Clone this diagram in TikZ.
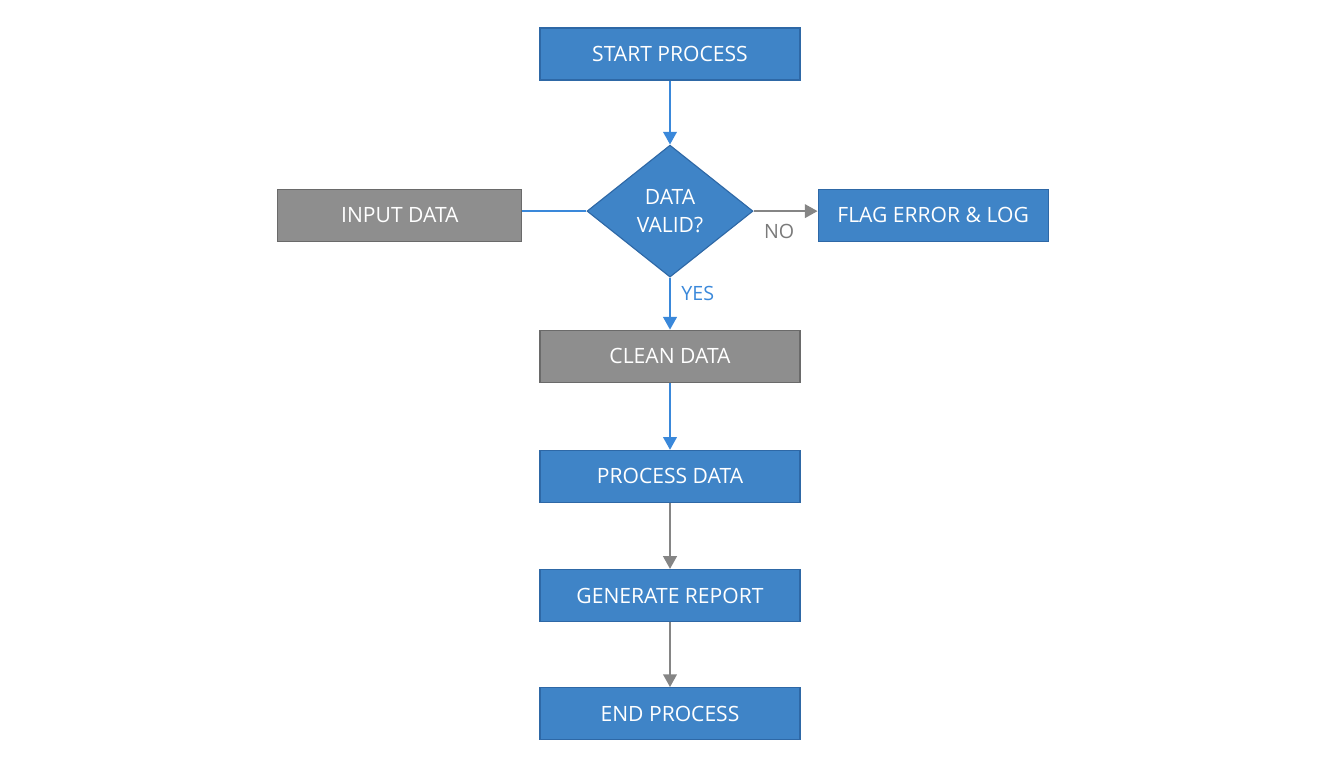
\documentclass[tikz,border=0pt]{standalone}
\usepackage{fontspec}
\setmainfont{Open Sans}
\usetikzlibrary{arrows.meta,positioning,shapes.geometric}
\definecolor{BoxBlue}{HTML}{3F84C7}
\definecolor{EdgeBlue}{HTML}{2E68A6}
\definecolor{BoxGray}{HTML}{8E8E8E}
\definecolor{EdgeGray}{HTML}{6A6A6A}
\definecolor{LineBlue}{HTML}{3A88DA}
\definecolor{LineGray}{HTML}{858585}
\definecolor{LabelGray}{HTML}{7A7A7A}
\tikzset{
  stepblue/.style={
    draw=EdgeBlue, line width=0.8pt, fill=BoxBlue, text=white,
    minimum width=6.5cm, minimum height=1.3cm, align=center,
    font=\fontsize{15}{18}\selectfont
  },
  stepgray/.style={
    stepblue, draw=EdgeGray, fill=BoxGray
  },
  decision/.style={
    diamond, draw=EdgeBlue, line width=0.8pt, fill=BoxBlue, text=white,
    minimum width=4.15cm, minimum height=3.3cm, inner sep=0pt,
    align=center, font=\fontsize{15}{20}\selectfont
  },
  blueflow/.style={-{Triangle[length=3.2mm,width=3.4mm]}, line width=1.6pt, draw=LineBlue},
  grayflow/.style={-{Triangle[length=3.2mm,width=3.4mm]}, line width=1.6pt, draw=LineGray},
  branch/.style={font=\fontsize{14}{16}\selectfont}
}

\begin{document}
\begin{tikzpicture}[node distance=1.65cm and 1.6cm]
    \useasboundingbox (0,0) rectangle (33.6,-19.2);
    \node[stepblue] (start) at (16.75,-1.35) {START PROCESS};
    \node[decision,below=1.6cm of start] (valid) {DATA\\VALID?};
    \node[stepgray,left=1.6cm of valid,yshift=-0.1cm,minimum width=6.1cm] (input) {INPUT DATA};
    \node[stepblue,right=1.6cm of valid,yshift=-0.1cm,minimum width=5.75cm] (flag) {FLAG ERROR \& LOG};
    \node[stepgray,below=1.3cm of valid] (clean) {CLEAN DATA};
    \node[stepblue,below=1.675cm of clean] (process) {PROCESS DATA};
    \node[stepblue,below=of process] (report) {GENERATE REPORT};
    \node[stepblue,below=1.625cm of report] (finish) {END PROCESS};
    \draw[blueflow] (start)--(valid);
    \draw[LineBlue,line width=1.6pt] (input.east |- valid.west)--(valid.west);
    \draw[grayflow] (valid.east)--(valid.east -| flag.west) node[branch,text=LabelGray,pos=0.4,below=5pt] {NO};
    \draw[blueflow] (valid.south)--(clean.north) node[branch,text=LineBlue,midway,right=4pt,yshift=7pt] {YES};
    \draw[blueflow] (clean)--(process);
    \draw[grayflow] (process)--(report);
    \draw[grayflow] (report)--(finish);
  \end{tikzpicture}
\end{document}
